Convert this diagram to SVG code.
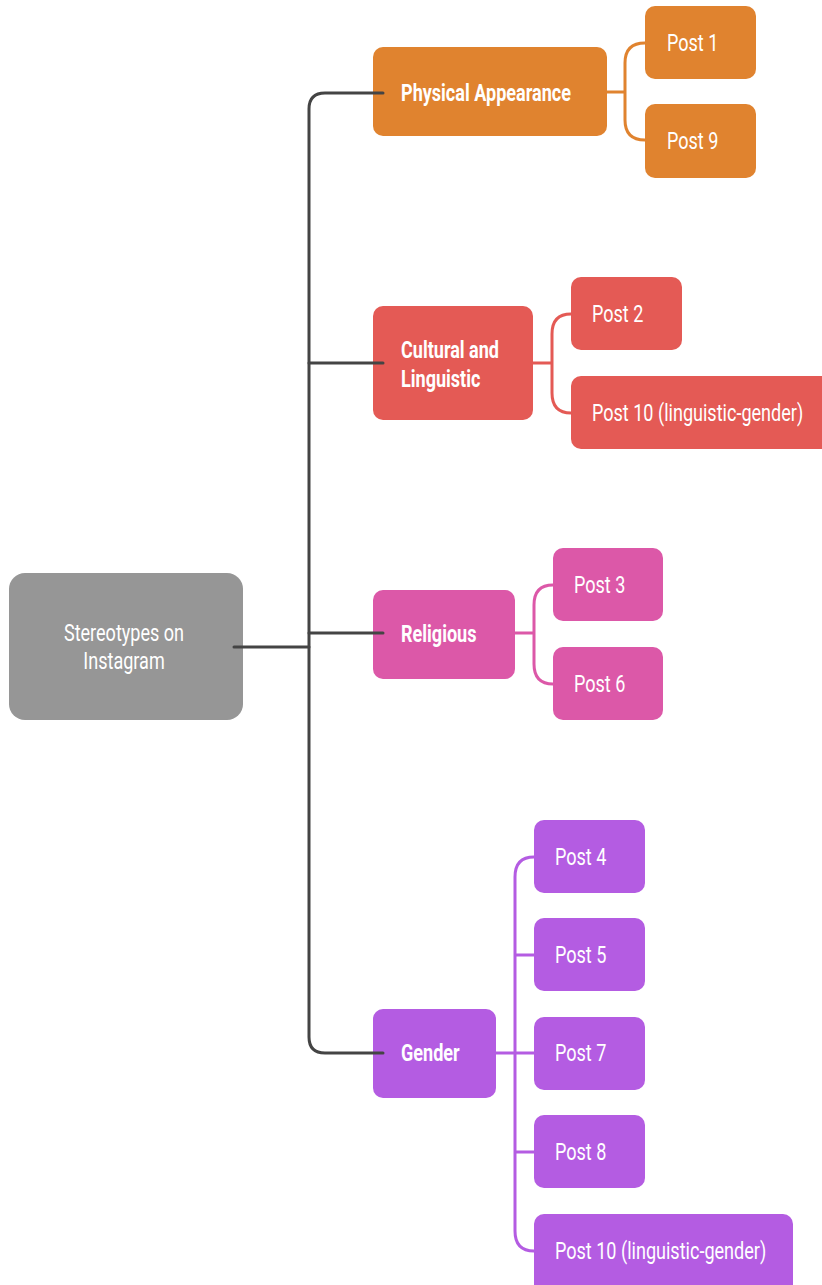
<svg xmlns="http://www.w3.org/2000/svg" width="822" height="1285" viewBox="0 0 822 1285">
<style>
.t{font-family:Roboto,"Liberation Sans",sans-serif;fill:#fff;font-size:23px}
.b{font-weight:bold}
.c{fill:none;stroke-width:3;stroke-linecap:round}
.dk{stroke:#444}
.or{fill:#E0832F}.ors{stroke:#E0832F}
.rd{fill:#E45A55}.rds{stroke:#E45A55}
.pk{fill:#DC58A8}.pks{stroke:#DC58A8}
.pu{fill:#B45CE2}.pus{stroke:#B45CE2}
</style>
<rect width="822" height="1285" fill="#fff"/>
<g id="root"><rect x="9" y="573" width="234" height="147" rx="16" fill="#969696"/>
<text class="t" transform="translate(124 641) scale(0.785 1)" text-anchor="middle">Stereotypes on</text>
<text class="t" transform="translate(124 669) scale(0.785 1)" text-anchor="middle">Instagram</text></g>
<g id="physical"><rect class="or" x="373" y="47" width="234" height="89" rx="10"/>
<text class="t b" transform="translate(401 101) scale(0.785 1)">Physical Appearance</text></g>
<g id="post1"><rect class="or" x="645" y="6" width="111" height="73" rx="10"/><text class="t" transform="translate(667 51) scale(0.785 1)">Post 1</text></g>
<g id="post9"><rect class="or" x="645" y="104" width="111" height="74" rx="10"/><text class="t" transform="translate(667 149) scale(0.785 1)">Post 9</text></g>
<g id="cultural"><rect class="rd" x="373" y="306" width="160" height="114" rx="10"/>
<text class="t b" transform="translate(401 358) scale(0.785 1)">Cultural and</text><text class="t b" transform="translate(401 387) scale(0.785 1)">Linguistic</text></g>
<g id="post2"><rect class="rd" x="571" y="277" width="111" height="73" rx="10"/><text class="t" transform="translate(592 322) scale(0.785 1)">Post 2</text></g>
<g id="post10a"><rect class="rd" x="571" y="376" width="260" height="73" rx="10"/><text class="t" transform="translate(592 421) scale(0.785 1)">Post 10 (linguistic-gender)</text></g>
<g id="religious"><rect class="pk" x="373" y="590" width="142" height="89" rx="10"/>
<text class="t b" transform="translate(401 642) scale(0.785 1)">Religious</text></g>
<g id="post3"><rect class="pk" x="553" y="548" width="110" height="73" rx="10"/><text class="t" transform="translate(574 593) scale(0.785 1)">Post 3</text></g>
<g id="post6"><rect class="pk" x="553" y="647" width="110" height="73" rx="10"/><text class="t" transform="translate(574 692) scale(0.785 1)">Post 6</text></g>
<g id="gender"><rect class="pu" x="373" y="1009" width="123" height="89" rx="10"/>
<text class="t b" transform="translate(401 1061) scale(0.785 1)">Gender</text></g>
<g id="post4"><rect class="pu" x="534" y="820" width="111" height="73" rx="10"/><text class="t" transform="translate(555 865) scale(0.785 1)">Post 4</text></g>
<g id="post5"><rect class="pu" x="534" y="918" width="111" height="73" rx="10"/><text class="t" transform="translate(555 963) scale(0.785 1)">Post 5</text></g>
<g id="post7"><rect class="pu" x="534" y="1017" width="111" height="73" rx="10"/><text class="t" transform="translate(555 1061) scale(0.785 1)">Post 7</text></g>
<g id="post8"><rect class="pu" x="534" y="1115" width="111" height="73" rx="10"/><text class="t" transform="translate(555 1160) scale(0.785 1)">Post 8</text></g>
<g id="post10b"><rect class="pu" x="534" y="1214" width="259" height="80" rx="10"/><text class="t" transform="translate(555 1259) scale(0.785 1)">Post 10 (linguistic-gender)</text></g>
<g id="connectors">
<path class="c dk" d="M234 647 H309"/>
<path class="c dk" d="M383 93 H325 Q309 93 309 109 V1037 Q309 1053 325 1053 H383"/>
<path class="c dk" d="M309 363 H383 M309 633 H383"/>
<path class="c ors" d="M607 92 H625 M645 43 Q625 43 625 63 V120 Q625 140 645 140"/>
<path class="c rds" d="M533 363 H552 M571 314 Q552 314 552 334 V393 Q552 413 571 413"/>
<path class="c pks" d="M515 633 H534 M553 585 Q534 585 534 605 V664 Q534 684 553 684"/>
<path class="c pus" d="M496 1053 H534 M534 857 Q515 857 515 877 V1231 Q515 1251 534 1251 M515 955 H534 M515 1152 H534"/>
</g>
</svg>
